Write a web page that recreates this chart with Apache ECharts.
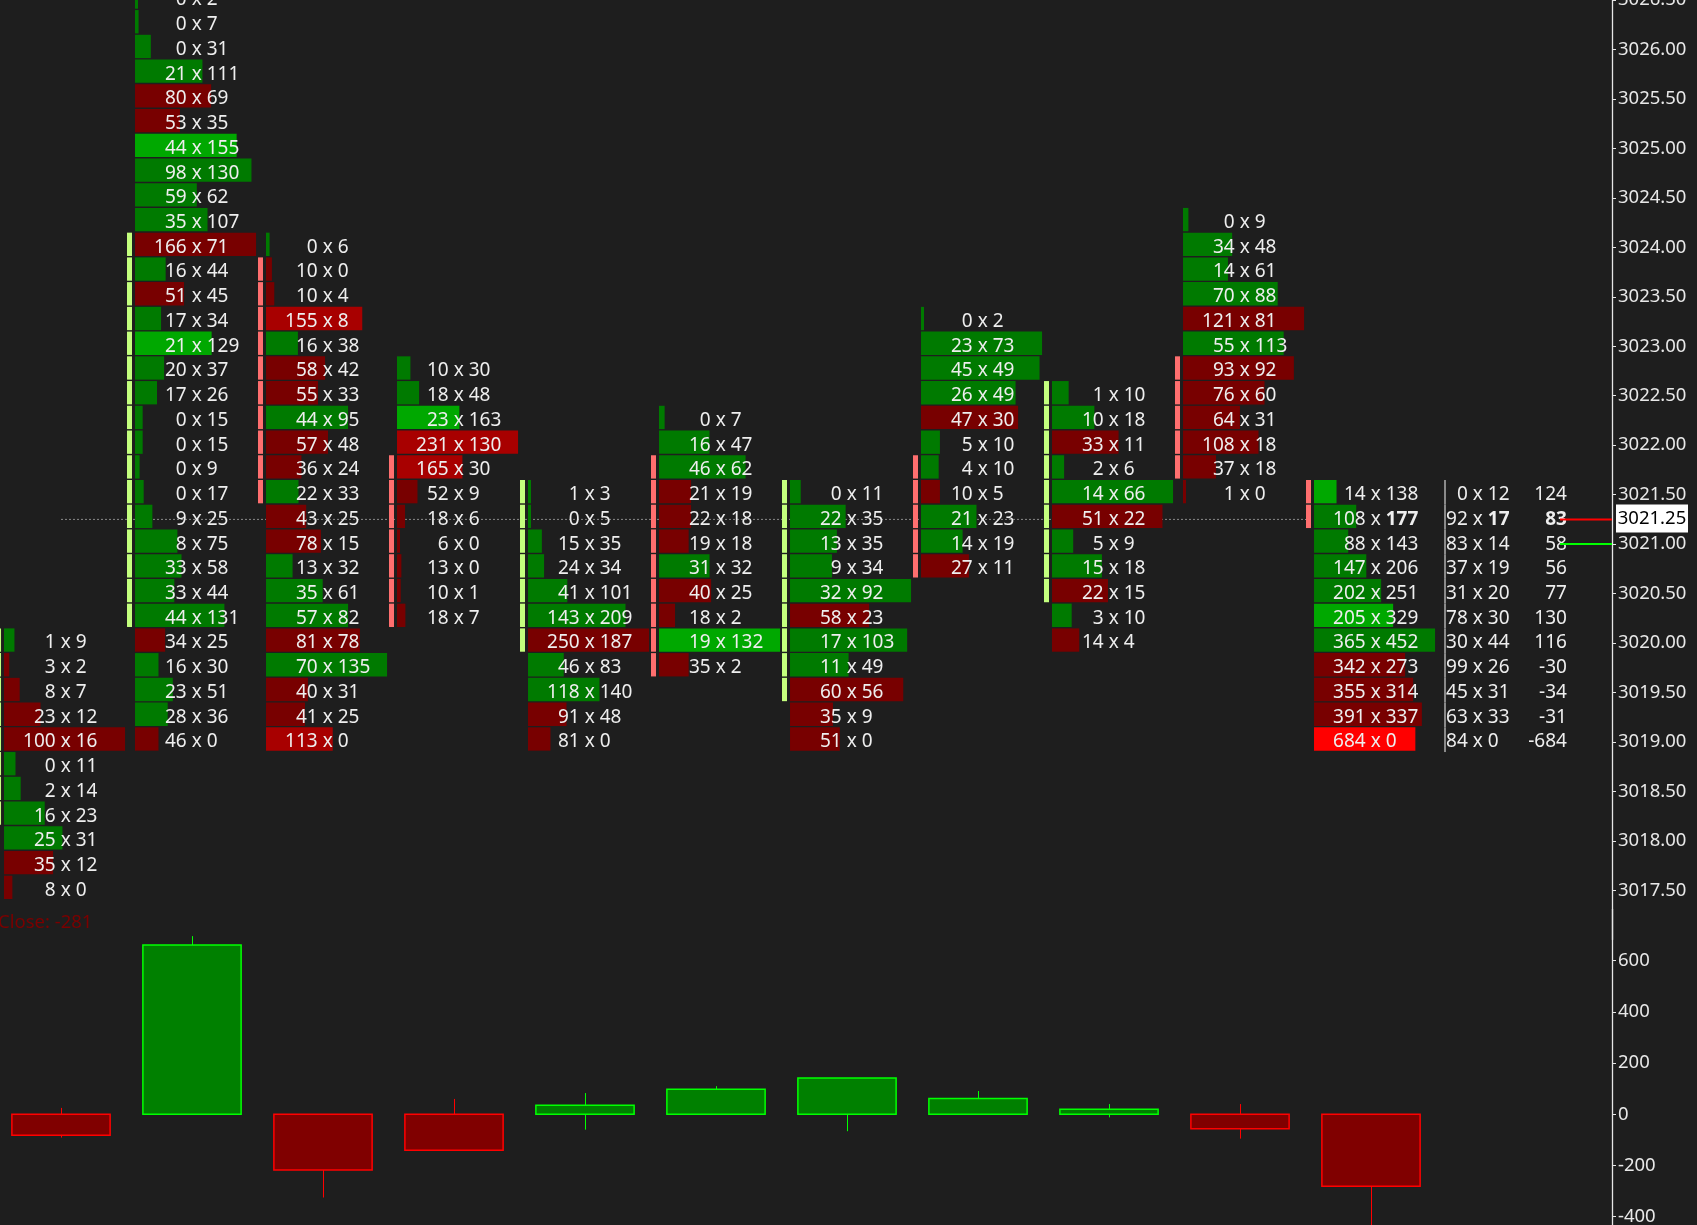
<!DOCTYPE html>
<html>
<head>
<meta charset="utf-8">
<script src="https://cdn.jsdelivr.net/npm/echarts@6.0.0/dist/echarts.min.js"></script>
<style>
  html, body { margin: 0; padding: 0; background: #1e1e1e; overflow: hidden; }
  #chart { width: 1697px; height: 1225px; }
</style>
</head>
<body>
<div id="chart"></div>
<script>
// ---------------- DATA ----------------
const TICK = 0.25;
const currentPrice = 3021.25;
const prevPrice = 3021.00;

// top price of each footprint column (rows go down by one tick)
const colTop = [3020.00, 3026.50, 3024.00, 3022.75, 3021.50, 3022.25, 3021.50, 3023.25, 3022.50, 3024.25, 3021.50];

const bid1 = [1, 3, 8, 23, 100, 0, 2, 16, 25, 35, 8];
const ask1 = [9, 2, 7, 12, 16, 11, 14, 23, 31, 12, 0];
const bid2 = [0, 0, 0, 21, 80, 53, 44, 98, 59, 35, 166, 16, 51, 17, 21, 20, 17, 0, 0, 0, 0, 9, 8, 33, 33, 44, 34, 16, 23, 28, 46];
const ask2 = [2, 7, 31, 111, 69, 35, 155, 130, 62, 107, 71, 44, 45, 34, 129, 37, 26, 15, 15, 9, 17, 25, 75, 58, 44, 131, 25, 30, 51, 36, 0];
const bid3 = [0, 10, 10, 155, 16, 58, 55, 44, 57, 36, 22, 43, 78, 13, 35, 57, 81, 70, 40, 41, 113];
const ask3 = [6, 0, 4, 8, 38, 42, 33, 95, 48, 24, 33, 25, 15, 32, 61, 82, 78, 135, 31, 25, 0];
const bid4 = [10, 18, 23, 231, 165, 52, 18, 6, 13, 10, 18];
const ask4 = [30, 48, 163, 130, 30, 9, 6, 0, 0, 1, 7];
const bid5 = [1, 0, 15, 24, 41, 143, 250, 46, 118, 91, 81];
const ask5 = [3, 5, 35, 34, 101, 209, 187, 83, 140, 48, 0];
const bid6 = [0, 16, 46, 21, 22, 19, 31, 40, 18, 19, 35];
const ask6 = [7, 47, 62, 19, 18, 18, 32, 25, 2, 132, 2];
const bid7 = [0, 22, 13, 9, 32, 58, 17, 11, 60, 35, 51];
const ask7 = [11, 35, 35, 34, 92, 23, 103, 49, 56, 9, 0];
const bid8 = [0, 23, 45, 26, 47, 5, 4, 10, 21, 14, 27];
const ask8 = [2, 73, 49, 49, 30, 10, 10, 5, 23, 19, 11];
const bid9 = [1, 10, 33, 2, 14, 51, 5, 15, 22, 3, 14];
const ask9 = [10, 18, 11, 6, 66, 22, 9, 18, 15, 10, 4];
const bid10 = [0, 34, 14, 70, 121, 55, 93, 76, 64, 108, 37, 1];
const ask10 = [9, 48, 61, 88, 81, 113, 92, 60, 31, 18, 18, 0];
const bid11 = [14, 108, 88, 147, 202, 205, 365, 342, 355, 391, 684];
const ask11 = [138, 177, 143, 206, 251, 329, 452, 273, 314, 337, 0];

// highlighted cells: [column index, price, level]
const highlights = [
  [1, 3025.00, 1], [1, 3023.00, 1],
  [2, 3023.25, 1], [2, 3019.00, 1],
  [3, 3022.25, 1], [3, 3022.00, 1], [3, 3021.75, 1],
  [5, 3020.00, 1],
  [10, 3021.50, 1], [10, 3020.25, 1], [10, 3019.00, 2]
];

// price bar body shown at the left of each column
const profileHigh = [3020.00, 3024.00, 3023.75, 3021.75, 3021.50, 3021.75, 3021.50, 3021.75, 3022.50, 3022.75, 3021.50];
const profileLow  = [3018.25, 3020.25, 3021.50, 3020.25, 3020.00, 3019.75, 3019.50, 3020.75, 3020.50, 3021.75, 3021.25];
const profileDir  = ['up', 'up', 'down', 'down', 'up', 'down', 'up', 'down', 'up', 'down', 'down'];

// extra statistics column for the last bar
const statTop = 3021.50;
const statBid = [0, 92, 83, 37, 31, 78, 30, 99, 45, 63, 84];
const statAsk = [12, 17, 14, 19, 20, 30, 44, 26, 31, 33, 0];
const statNet = [124, 83, 58, 56, 77, 130, 116, -30, -34, -31, -684];

// delta candles (lower panel)
const deltaOpen  = [0, 0, 0, 0, 0, 0, 0, 0, 0, 0, 0];
const deltaClose = [-82, 661, -218, -140, 35, 98, 142, 62, 20, -56, -281];
const deltaHigh  = [25, 696, 0, 60, 83, 110, 142, 91, 40, 40, 0];
const deltaLow   = [-91, 0, -325, -140, -60, 0, -66, 0, -12, -95, -460];

// axis tick labels
const priceTicks = [3017.5, 3018, 3018.5, 3019, 3019.5, 3020, 3020.5, 3021, 3021.5, 3022, 3022.5, 3023, 3023.5, 3024, 3024.5, 3025, 3025.5, 3026, 3026.5];
const deltaTicks = [-600, -400, -200, 0, 200, 400, 600];

// ---------------- BUILD ----------------
const FONT = 'Noto Sans';
const FS = 19;
const AFS = 18.5;
const GAP = 10;
const TXT = '#eeeeee';
const bids = [bid1, bid2, bid3, bid4, bid5, bid6, bid7, bid8, bid9, bid10, bid11];
const asks = [ask1, ask2, ask3, ask4, ask5, ask6, ask7, ask8, ask9, ask10, ask11];
const nCols = bids.length;

const cellData = [];
for (let i = 0; i < nCols; i++) {
  const tot = bids[i].map((b, k) => b + asks[i][k]);
  const maxTot = Math.max(...tot);
  bids[i].forEach((b, k) => {
    const price = +(colTop[i] - k * TICK).toFixed(2);
    const hl = highlights.find(h => h[0] === i && Math.abs(h[1] - price) < 1e-6);
    const bold = (i === nCols - 1 && Math.abs(price - currentPrice) < 1e-6) ? 1 : 0;
    cellData.push([i, price, b, asks[i][k], maxTot, hl ? hl[2] : 0, bold]);
  });
}

const profileData = [];
for (let i = 0; i < nCols; i++) {
  for (let p = profileHigh[i]; p >= profileLow[i] - 1e-6; p -= TICK) {
    profileData.push([i, +p.toFixed(2), profileDir[i] === 'up' ? 1 : 0]);
  }
}

const statData = statBid.map((b, k) => {
  const price = +(statTop - k * TICK).toFixed(2);
  return [nCols, price, b, statAsk[k], statNet[k], Math.abs(price - currentPrice) < 1e-6 ? 1 : 0];
});

const candleData = deltaClose.map((c, i) => [i, deltaOpen[i], c, deltaLow[i], deltaHigh[i]]);

// layout helpers (pixel layout, not data)
const COLPX = 131, FIRSTPX = 61, AXISX = 1612;
const xMin = -FIRSTPX / COLPX;
const xMax = xMin + AXISX / COLPX;

const upperScale = 98.93;        // px per price unit
const lowerScale = 0.256;        // px per delta unit
const lowerZeroY = 1114.3;

function cellColor(bid, ask, level) {
  if (level === 2) return bid > ask ? '#ff0000' : '#00ff00';
  if (level === 1) return bid > ask ? '#a80000' : '#00a800';
  return bid > ask ? '#780000' : '#007a00';
}

function txt(x, y, s, align, bold) {
  return {
    type: 'text', x: x, y: y, z2: 10,
    style: {
      text: String(s), align: align, verticalAlign: 'middle', fill: TXT,
      fontFamily: FONT, fontSize: FS, fontWeight: bold ? 'bold' : 'normal'
    }
  };
}

function renderCell(params, api) {
  const col = api.value(0), price = api.value(1), bid = api.value(2), ask = api.value(3);
  const maxTot = api.value(4), level = api.value(5), bold = api.value(6);
  const p = api.coord([col, price]);
  const colW = api.size([1, 0])[0];
  const rowH = api.size([0, TICK])[1];
  const x0 = p[0] - 0.435 * colW;
  const w = Math.max(3, (bid + ask) / maxTot * 0.924 * colW);
  const cx = p[0] + 0.036 * colW;
  return {
    type: 'group',
    children: [
      { type: 'rect', shape: { x: x0, y: p[1] - rowH / 2 - 2.3, width: w, height: rowH - 1.4 },
        style: { fill: cellColor(bid, ask, level) } },
      txt(cx - GAP, p[1], bid, 'right', false),
      txt(cx, p[1], 'x', 'center', false),
      txt(cx + GAP, p[1], ask, 'left', bold)
    ]
  };
}

function renderProfile(params, api) {
  const col = api.value(0), price = api.value(1), up = api.value(2);
  const p = api.coord([col, price]);
  const colW = api.size([1, 0])[0];
  const rowH = api.size([0, TICK])[1];
  return {
    type: 'rect',
    shape: { x: p[0] - 0.496 * colW, y: p[1] - rowH / 2 - 2.3, width: 5, height: rowH - 1.4 },
    style: { fill: up ? '#c4ff7e' : '#ff6f6f' }
  };
}

function renderStat(params, api) {
  const col = api.value(0), price = api.value(1), bid = api.value(2), ask = api.value(3);
  const net = api.value(4), bold = api.value(5);
  const p = api.coord([col, price]);
  const colW = api.size([1, 0])[0];
  const rowH = api.size([0, TICK])[1];
  const lx = p[0] - 0.435 * colW;
  const cx = p[0] - 0.185 * colW;
  return {
    type: 'group',
    children: [
      { type: 'rect', shape: { x: lx - 1, y: p[1] - rowH / 2 - 2.3, width: 2, height: rowH },
        style: { fill: '#8a8a8a' } },
      txt(cx - GAP, p[1], bid, 'right', false),
      txt(cx, p[1], 'x', 'center', false),
      txt(cx + GAP, p[1], ask, 'left', bold),
      txt(p[0] + 0.496 * colW, p[1], net, 'right', bold)
    ]
  };
}

function renderPriceBox(params, api) {
  const p = api.coord([api.value(0), api.value(1)]);
  return {
    type: 'group',
    children: [
      { type: 'rect', shape: { x: p[0] + 4, y: p[1] - 15, width: 72, height: 28 }, style: { fill: '#ffffff' } },
      { type: 'text', x: p[0] + 40, y: p[1] - 1, style: { text: api.value(1).toFixed(2), align: 'center', verticalAlign: 'middle',
        fill: '#000000', fontFamily: FONT, fontSize: AFS } }
    ]
  };
}

function renderCandle(params, api) {
  const col = api.value(0), o = api.value(1), c = api.value(2), l = api.value(3), h = api.value(4);
  const po = api.coord([col, o]), pc = api.coord([col, c]), pl = api.coord([col, l]), ph = api.coord([col, h]);
  const colW = api.size([1, 0])[0];
  const bw = 0.75 * colW;
  const up = c >= o;
  const stroke = up ? '#00ff00' : '#ff0000';
  const fill = up ? '#008000' : '#800000';
  const top = Math.min(po[1], pc[1]), bot = Math.max(po[1], pc[1]);
  const x = Math.round(po[0]) + 0.5;
  return {
    type: 'group',
    children: [
      { type: 'line', shape: { x1: x, y1: ph[1], x2: x, y2: top }, style: { stroke: stroke, lineWidth: 1 } },
      { type: 'line', shape: { x1: x, y1: bot, x2: x, y2: pl[1] }, style: { stroke: stroke, lineWidth: 1 } },
      { type: 'rect', shape: { x: po[0] - bw / 2, y: top, width: bw, height: Math.max(1, bot - top) },
        style: { fill: fill, stroke: stroke, lineWidth: 1.5 } }
    ]
  };
}

function yAxisCfg(gridIndex, min, max, ticks, fmt) {
  return {
    gridIndex: gridIndex, type: 'value', position: 'right', min: min, max: max,
    axisLine: { show: true, onZero: false, lineStyle: { color: '#e6e6e6', width: 1.3 } },
    axisTick: { show: true, inside: false, length: 4, customValues: ticks, lineStyle: { color: '#e6e6e6' } },
    axisLabel: { color: '#e8e8e8', fontSize: AFS, fontFamily: FONT, margin: 6, customValues: ticks, formatter: fmt },
    splitLine: { show: false }
  };
}

const option = {
  backgroundColor: '#1e1e1e',
  animation: false,
  title: {
    text: 'Close: ' + deltaClose[deltaClose.length - 1],
    left: -2, top: 913, padding: 0,
    textStyle: { color: '#7a0000', fontSize: AFS, fontWeight: 'normal', fontFamily: FONT }
  },
  grid: [
    { left: 0, top: 0, width: AXISX, height: 9.5 * upperScale, outerBoundsMode: 'none', containLabel: false },
    { left: 0, top: lowerZeroY - 800 * lowerScale, width: AXISX, height: 1400 * lowerScale, outerBoundsMode: 'none', containLabel: false }
  ],
  xAxis: [
    { gridIndex: 0, type: 'value', min: xMin, max: xMax, show: false },
    { gridIndex: 1, type: 'value', min: xMin, max: xMax, show: false }
  ],
  yAxis: [
    yAxisCfg(0, 3017, 3026.5, priceTicks, v => Number(v).toFixed(2)),
    yAxisCfg(1, -600, 800, deltaTicks, v => String(v))
  ],
  series: [
    {
      type: 'line', xAxisIndex: 0, yAxisIndex: 0, symbol: 'none', silent: true, z: 1,
      lineStyle: { color: '#8a8a8a', width: 1, type: [2, 2] },
      data: [[0, currentPrice], [nCols - 1 - 0.496, currentPrice]]
    },
    {
      type: 'line', xAxisIndex: 0, yAxisIndex: 0, symbol: 'none', silent: true, z: 5,
      lineStyle: { color: '#ff0000', width: 2 },
      data: [[nCols + 0.443, currentPrice], [xMax, currentPrice]]
    },
    {
      type: 'line', xAxisIndex: 0, yAxisIndex: 0, symbol: 'none', silent: true, z: 5,
      lineStyle: { color: '#00ff00', width: 2 },
      data: [[nCols + 0.443, prevPrice], [xMax, prevPrice]]
    },
    {
      type: 'custom', xAxisIndex: 0, yAxisIndex: 0, clip: false, z: 3,
      renderItem: renderProfile, data: profileData
    },
    {
      type: 'custom', xAxisIndex: 0, yAxisIndex: 0, clip: false, z: 3,
      renderItem: renderCell, data: cellData
    },
    {
      type: 'custom', xAxisIndex: 0, yAxisIndex: 0, clip: false, z: 3,
      renderItem: renderStat, data: statData
    },
    {
      type: 'custom', xAxisIndex: 0, yAxisIndex: 0, clip: false, z: 6,
      renderItem: renderPriceBox, data: [[xMax, currentPrice]]
    },
    {
      type: 'custom', xAxisIndex: 1, yAxisIndex: 1, clip: false, z: 3,
      renderItem: renderCandle, data: candleData
    }
  ]
};

const chart = echarts.init(document.getElementById('chart'));
chart.setOption(option);
</script>
</body>
</html>
